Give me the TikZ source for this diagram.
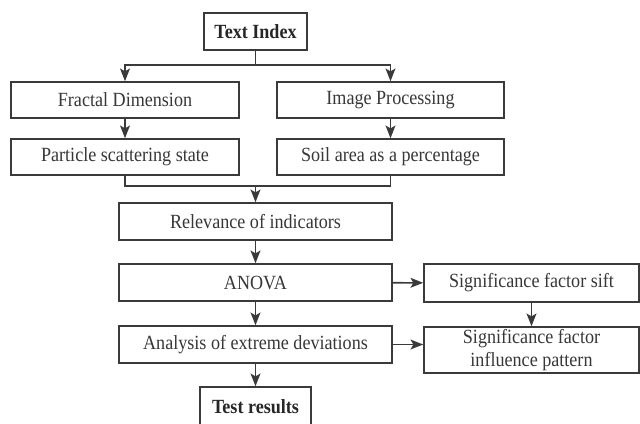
\documentclass[tikz,border=0pt]{standalone}
\usepackage{fontspec}
\setmainfont{Liberation Serif}[FakeStretch=0.9]
\usetikzlibrary{arrows.meta}
\definecolor{linegray}{RGB}{58,58,58}
\definecolor{textgray}{RGB}{55,55,55}

\begin{document}
\begin{tikzpicture}[x=0.025cm, y=-0.025cm,
    box/.style={rectangle, draw=linegray, line width=1.1pt, text=textgray, align=center,
        font=\fontsize{14.3}{16}\selectfont, inner sep=0pt, minimum height=0.9cm},
    arrow/.style={-{Stealth[length=9pt, width=7pt, inset=2pt]}, draw=linegray, line width=1.1pt},
    link/.style={draw=linegray, line width=1.1pt}]
    \useasboundingbox (0,0) rectangle (640,423);

    \node[box, font=\fontsize{14.3}{16}\selectfont\bfseries, text=black!85, minimum width=2.575cm, minimum height=0.925cm] (index) at (255.5,31.5) {Text Index};
    \node[box, minimum width=5.7cm] (fractal) at (125,100) {Fractal Dimension};
    \node[box, minimum width=5.675cm] (image) at (390.5,100) {Image Processing};
    \node[box, minimum width=5.7cm] (particle) at (125,157) {Particle scattering state};
    \node[box, minimum width=5.675cm] (soil) at (390.5,157) {Soil area as a percentage};
    \node[box, minimum width=6.825cm, minimum height=0.925cm] (relevance) at (255.5,221.5) {Relevance of indicators};
    \node[box, minimum width=6.825cm, minimum height=0.925cm] (anova) at (255.5,282.5) {ANOVA};
    \node[box, minimum width=6.825cm, minimum height=0.925cm] (analysis) at (255.5,344.5) {Analysis of extreme deviations};
    \node[box, minimum width=5.375cm, minimum height=0.95cm] (sift) at (531.5,283) {Significance factor sift};
    \node[box, minimum width=5.375cm, minimum height=1.15cm] (influence) at (531.5,350) {Significance factor\\influence pattern};
    \node[box, font=\fontsize{14.3}{16}\selectfont\bfseries, text=black!85, minimum width=2.775cm, minimum height=1cm] (results) at (255.5,407) {Test results};

    \coordinate (split) at (255.5,65);
    \coordinate (merge) at (255.5,186);

    % top branch
    \draw[link] (index) -- (split);
    \draw[arrow] (split) -| (fractal);
    \draw[arrow] (split) -| (image);
    \draw[arrow] (fractal) -- (particle);
    \draw[arrow] (image) -- (soil);
    % join
    \draw[link] (particle) |- (merge);
    \draw[link] (soil) |- (merge);
    \draw[arrow] (merge) -- (relevance);
    % main column
    \draw[arrow] (relevance) -- (anova);
    \draw[arrow] (anova) -- (analysis);
    \draw[arrow] (analysis) -- (results);
    % side column
    \draw[arrow] (anova) -- (sift);
    \draw[arrow] (sift) -- (influence);
    \draw[arrow] (analysis.east) -- (analysis.east -| influence.west);
\end{tikzpicture}
\end{document}
